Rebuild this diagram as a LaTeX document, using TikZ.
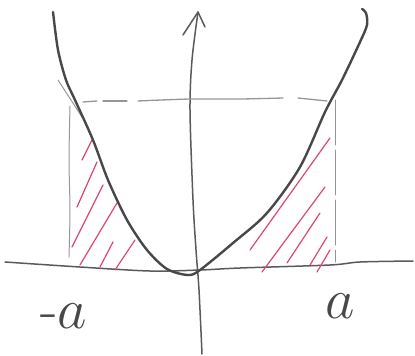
\documentclass[tikz,border=0pt]{standalone}
\usetikzlibrary{calc}
\definecolor{pencil}{RGB}{72,72,72}
\definecolor{axisgray}{RGB}{90,90,90}
\definecolor{lightpencil}{RGB}{150,150,150}
\definecolor{hatchred}{RGB}{222,70,110}
\tikzset{
  curve/.style={draw=pencil, line width=2.4pt, line cap=round, line join=round},
  axisline/.style={draw=axisgray, line width=1.5pt, line cap=round, line join=round},
  guide/.style={draw=lightpencil, line width=1.3pt, line cap=round},
  hatch/.style={draw=hatchred, line width=1.2pt, line cap=round},
  lbl/.style={text=pencil, inner sep=0pt, font=\Huge, scale=2.3}
}
\begin{document}
\begin{tikzpicture}[x=1pt,y=-1pt]
\useasboundingbox (0,0) rectangle (415,356);
% horizontal axis
\draw[axisline] plot[smooth] coordinates {(5,262) (80,267) (150,271) (200,270) (240,268) (330,265) (360,262) (413,261)};
% vertical axis with arrow
\draw[axisline] plot[smooth] coordinates {(202,354) (199,290) (196,250) (193,200) (190,110) (192,60) (198,12)};
\coordinate (tip) at (198,12);
\draw[axisline] (183,35) -- (tip) -- (205,27);
% dashed guide lines
\draw[guide] (83,102) -- (97,101);
\draw[guide] (103,101) -- (127,101);
\draw[guide] plot[smooth] coordinates {(138,101) (190,99) (240,99) (283,98)};
\draw[guide] (298,98) -- (327,101);
\draw[guide, line width=1pt] plot[smooth] coordinates {(70,106) (69,160) (70,210) (69,257)};
\draw[guide, line width=1pt, dash pattern=on 45pt off 5pt] (335,100) -- (335,262);
% red hatching left
\draw[hatch] (82,160) -- (92,140);
\draw[hatch] (77,207) -- (97,162);
\draw[hatch] (72,247) -- (103,185);
\draw[hatch] (80,265) -- (117,203);
\draw[hatch] (100,267) -- (113,242);
\draw[hatch] (115,270) -- (135,240);
% red hatching right
\draw[hatch] (250,250) -- (330,138);
\draw[hatch] (262,272) -- (325,187);
\draw[hatch] (287,263) -- (320,213);
\draw[hatch] (310,265) -- (327,237);
\draw[hatch] (317,272) -- (330,250);
% parabola
\draw[draw=lightpencil, line width=1pt] (58,80) -- (82,117);
\draw[curve] plot[smooth] coordinates {(53,12) (58,50) (66,80) (75,100) (93,140) (108,180) (127,220) (147,250) (167,269) (188,275) (200,270) (233,243) (267,213) (300,167) (325,112) (342,80) (360,42) (367,25) (366,13) (362,9)};
% labels
\node[lbl] (minusa) at (64,316) {-$a$};
\node[lbl] (plusa) at (340,306) {$a$};
\end{tikzpicture}
\end{document}
